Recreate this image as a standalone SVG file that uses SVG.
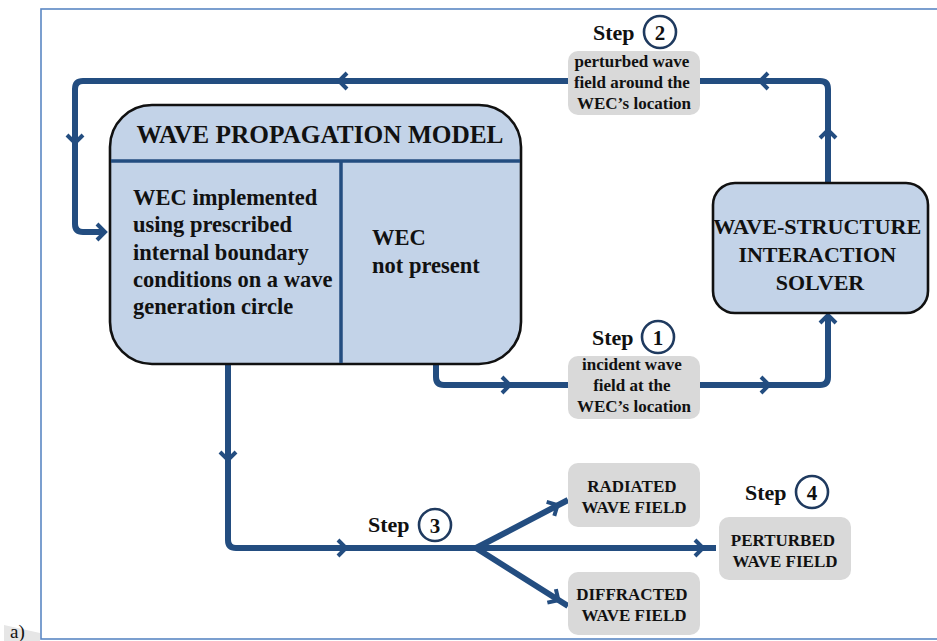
<svg xmlns="http://www.w3.org/2000/svg" width="937" height="641" viewBox="0 0 937 641">
<style>
.frame{fill:none;stroke:#5b87c4;stroke-width:1.6}
.node{fill:#c3d3e8;stroke:#111;stroke-width:2.6}
.div{stroke:#234d80;stroke-width:3.5}
.lbl{fill:#d9d9d9}
.con{fill:none;stroke:#234d80;stroke-width:6;stroke-linejoin:round}
.ah{fill:none;stroke:#234d80;stroke-width:4;stroke-linejoin:miter}
.t{font-family:"Liberation Serif","Times New Roman",serif;font-weight:bold;fill:#111}
.c{text-anchor:middle}
.num{fill:none;stroke:#1f3a5f;stroke-width:2.6}
</style>
<defs>
<path id="ah" d="M-4,-8 L4,0 L-4,8"/>
</defs>
<rect class="frame" x="41" y="9" width="905" height="630"/>
<polygon points="4,625 40,633 40,641 4,641" fill="#e6e6e6"/>
<text class="t" x="10" y="638" style="font-weight:normal;font-size:19px">a)</text>

<g id="connectors">
<path class="con" d="M828,183 V89 Q828,81 820,81 H83 Q75,81 75,89 V224 Q75,232 83,232 H104"/>
<path class="con" d="M436,364 V377 Q436,385 444,385 H820 Q828,385 828,377 V317"/>
<path class="con" d="M228,364 V540 Q228,548 236,548 H476"/>
<path class="con" d="M476,548 L568,500 M476,548 H716 M476,548 L568,606"/>
<g class="ah">
<use href="#ah" transform="translate(343,81) rotate(180)"/>
<use href="#ah" transform="translate(764,81) rotate(180)"/>
<use href="#ah" transform="translate(828,134) rotate(-90)"/>
<use href="#ah" transform="translate(75,139) rotate(90)"/>
<use href="#ah" transform="translate(101,232)"/>
<use href="#ah" transform="translate(506,385)"/>
<use href="#ah" transform="translate(765,385)"/>
<use href="#ah" transform="translate(828,319) rotate(-90)"/>
<use href="#ah" transform="translate(228,456) rotate(90)"/>
<use href="#ah" transform="translate(342,548)"/>
<use href="#ah" transform="translate(554,507) rotate(-28.5)"/>
<use href="#ah" transform="translate(699,548)"/>
<use href="#ah" transform="translate(555,598) rotate(32.2)"/>
</g>
</g>

<g id="wave-propagation-model">
<rect class="node" x="110" y="105" width="411" height="259" rx="42"/>
<line class="div" x1="111" y1="161" x2="520" y2="161"/>
<line class="div" x1="341" y1="161" x2="341" y2="363"/>
<text class="t c" x="320" y="143" style="font-size:25px" textLength="367" lengthAdjust="spacingAndGlyphs">WAVE PROPAGATION MODEL</text>
<text class="t" style="font-size:22.5px">
<tspan x="133" y="205">WEC implemented</tspan>
<tspan x="133" y="232">using prescribed</tspan>
<tspan x="133" y="260">internal boundary</tspan>
<tspan x="133" y="287">conditions on a wave</tspan>
<tspan x="133" y="314">generation circle</tspan>
</text>
<text class="t" style="font-size:22.5px">
<tspan x="372" y="245">WEC</tspan>
<tspan x="372" y="273">not present</tspan>
</text>
</g>

<g id="wave-structure-solver">
<rect class="node" x="713" y="183" width="215" height="130" rx="22"/>
<text class="t c" style="font-size:22px">
<tspan x="820" y="234" textLength="208" lengthAdjust="spacingAndGlyphs">WAVE-STRUCTURE</tspan>
<tspan x="820" y="262">INTERACTION</tspan>
<tspan x="820" y="290">SOLVER</tspan>
</text>
</g>

<g id="step2">
<text class="t" x="593" y="40" style="font-size:22px">Step</text>
<circle class="num" cx="660" cy="32" r="16"/>
<text class="t c" x="660" y="40" style="font-size:21px">2</text>
<rect class="lbl" x="568" y="51" width="132" height="64" rx="10"/>
<text class="t c" style="font-size:17px">
<tspan x="634" y="67">perturbed wave</tspan>
<tspan x="634" y="88">field around the</tspan>
<tspan x="634" y="109">WEC’s location</tspan>
</text>
</g>

<g id="step1">
<text class="t" x="592" y="345" style="font-size:22px">Step</text>
<circle class="num" cx="658" cy="337" r="16"/>
<text class="t c" x="658" y="345" style="font-size:21px">1</text>
<rect class="lbl" x="568" y="356" width="132" height="63" rx="10"/>
<text class="t c" style="font-size:17px">
<tspan x="634" y="370">incident wave</tspan>
<tspan x="634" y="391">field at the</tspan>
<tspan x="634" y="412">WEC’s location</tspan>
</text>
</g>

<g id="step3">
<text class="t" x="368" y="532" style="font-size:22px">Step</text>
<circle class="num" cx="435" cy="525" r="16"/>
<text class="t c" x="435" y="533" style="font-size:21px">3</text>
</g>

<g id="radiated">
<rect class="lbl" x="568" y="463" width="132" height="64" rx="10"/>
<text class="t c" style="font-size:17px">
<tspan x="634" y="492">RADIATED</tspan>
<tspan x="634" y="513">WAVE FIELD</tspan>
</text>
</g>

<g id="diffracted">
<rect class="lbl" x="568" y="572" width="132" height="63" rx="10"/>
<text class="t c" style="font-size:17px">
<tspan x="634" y="600">DIFFRACTED</tspan>
<tspan x="634" y="621">WAVE FIELD</tspan>
</text>
</g>

<g id="step4">
<text class="t" x="745" y="500" style="font-size:22px">Step</text>
<circle class="num" cx="812" cy="492" r="16"/>
<text class="t c" x="812" y="500" style="font-size:21px">4</text>
</g>

<g id="perturbed">
<rect class="lbl" x="719" y="517" width="132" height="63" rx="10"/>
<text class="t c" style="font-size:17px">
<tspan x="785" y="546">PERTURBED</tspan>
<tspan x="785" y="567">WAVE FIELD</tspan>
</text>
</g>
</svg>
